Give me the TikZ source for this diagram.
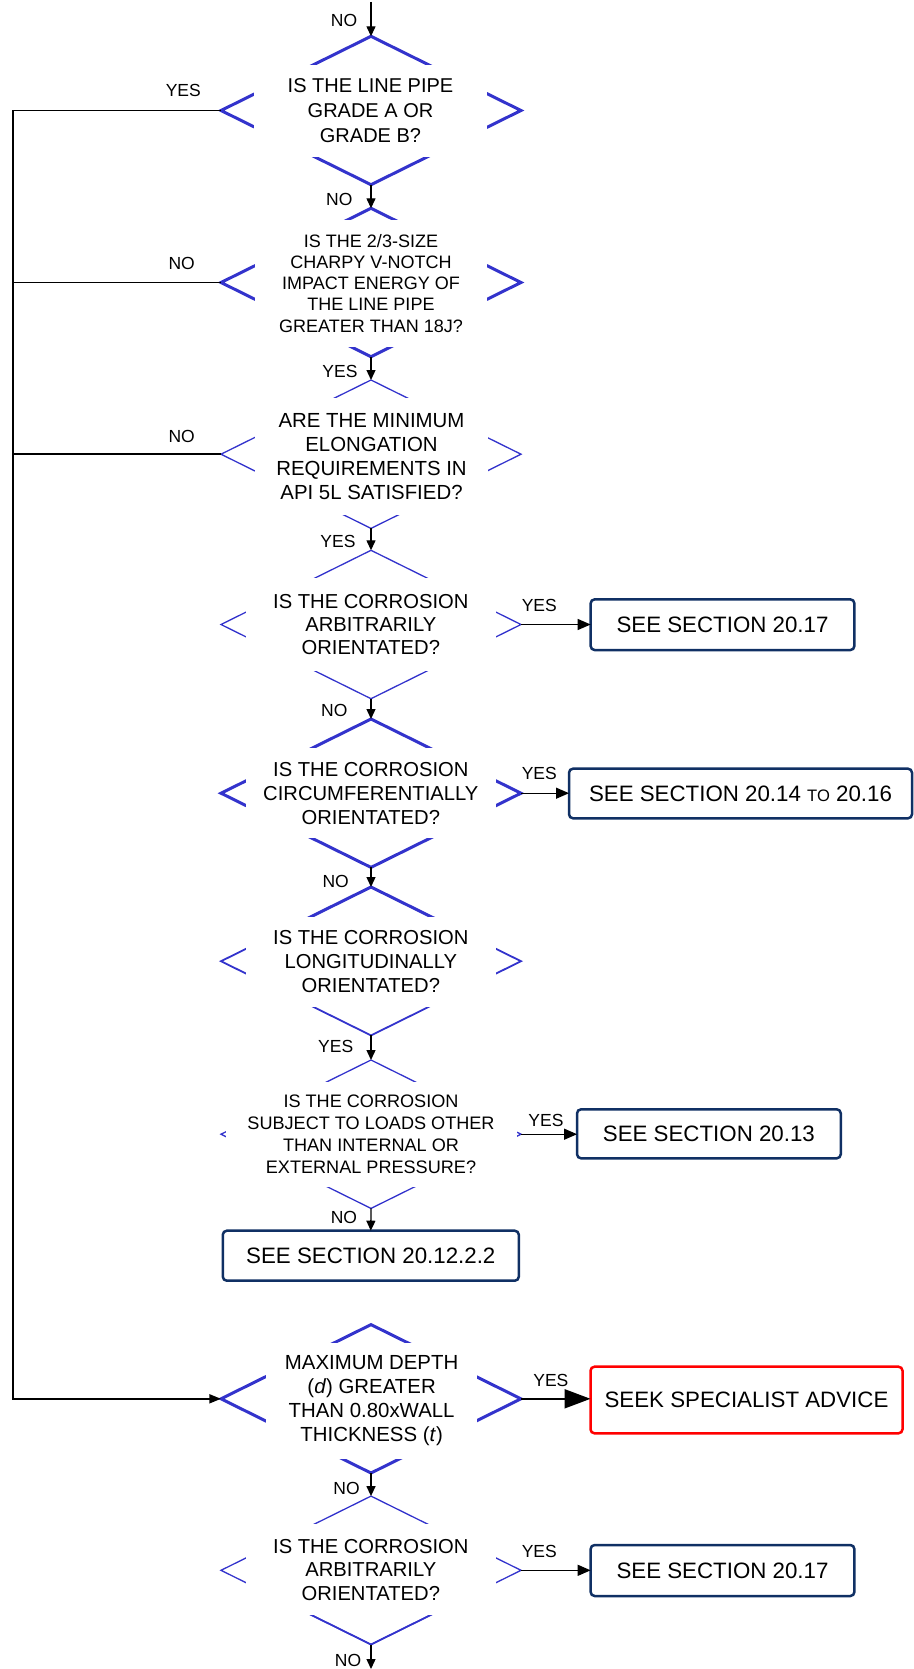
\documentclass[tikz,border=0pt]{standalone}
\usepackage{fontspec}
\setmainfont{Liberation Sans}
\usetikzlibrary{arrows.meta,shapes.geometric,calc}
\definecolor{dblue}{RGB}{51,51,204}
\definecolor{navy}{RGB}{16,48,100}
\begin{document}
\begin{tikzpicture}[x=0.5pt,y=-0.5pt,
  dia/.style={shape=diamond, draw=dblue, inner sep=0pt, outer sep=0pt, minimum width=150pt, minimum height=74.2pt},
  thick dia/.style={dia, line width=1.5pt},
  mid dia/.style={dia, line width=0.9pt},
  thin dia/.style={dia, line width=0.65pt},
  cover/.style={fill=white, inner sep=0pt, outer sep=0pt, align=center, text=black},
  sbox/.style={draw=navy, line width=1.25pt, rounded corners=2pt, inner sep=0pt, outer sep=0pt, font=\fontsize{11.15}{13}\selectfont},
  lbl/.style={font=\fontsize{8.75}{10}\selectfont, inner sep=0pt},
  arr/.style={line width=0.65pt, -{Triangle[length=5pt, width=4.5pt]}},
  barr/.style={line width=0.65pt, -{Triangle[length=6.5pt, width=5.5pt]}},
  fbl/.style={line width=0.8pt}
]
\useasboundingbox (0,0) rectangle (914,1669);

% diamonds
\node[thick dia] (d1) at (371,110.5) {};
\node[thick dia] (d2) at (371,282.5) {};
\node[thin dia]  (d3) at (371,454.2) {};
\node[thin dia]  (d4) at (371,624.5) {};
\node[thick dia] (d5) at (371,793.2) {};
\node[mid dia]   (d6) at (371,961.2) {};
\node[thin dia]  (d7) at (371,1134.2) {};
\node[thick dia] (d8) at (371,1398.8) {};
\node[thin dia]  (d9) at (371,1570.3) {};

% heavier corner strokes
\draw[dblue, line width=1.5pt, line join=miter] ($(d6.north)!0.5!(d6.west)$) -- (d6.north) -- ($(d6.north)!0.5!(d6.east)$);
\draw[dblue, line width=0.9pt, line join=miter] ($(d9.south)!0.5!(d9.west)$) -- (d9.south) -- ($(d9.south)!0.5!(d9.east)$);

% covers with texts
\node[cover, minimum width=116.5pt, minimum height=46pt, font=\fontsize{10}{12.5}\selectfont] (t1) at (370.5,111)
  {IS THE LINE PIPE\\GRADE A OR\\GRADE B?};
\node[cover, minimum width=116pt, minimum height=63.3pt, font=\fontsize{9}{10.6}\selectfont] (t2) at (371,283.3)
  {IS THE 2/3-SIZE\\CHARPY V-NOTCH\\IMPACT ENERGY OF\\THE LINE PIPE\\GREATER THAN 18J?};
\node[cover, minimum width=116.5pt, minimum height=58.3pt, font=\fontsize{10.2}{12}\selectfont] (t3) at (371.5,456.7)
  {ARE THE MINIMUM\\ELONGATION\\REQUIREMENTS IN\\API 5L SATISFIED?};
\node[cover, minimum width=125.2pt, minimum height=46.2pt, font=\fontsize{10.1}{11.65}\selectfont] (t4) at (370.8,624.5)
  {IS THE CORROSION\\ARBITRARILY\\ORIENTATED?};
\node[cover, minimum width=125.2pt, minimum height=45pt, font=\fontsize{10.1}{11.9}\selectfont] (t5) at (370.8,793.3)
  {IS THE CORROSION\\CIRCUMFERENTIALLY\\ORIENTATED?};
\node[cover, minimum width=125.2pt, minimum height=45pt, font=\fontsize{10.1}{11.85}\selectfont] (t6) at (370.8,961.7)
  {IS THE CORROSION\\LONGITUDINALLY\\ORIENTATED?};
\node[cover, minimum width=145.5pt, minimum height=52.2pt, font=\fontsize{9.05}{10.95}\selectfont] (t7) at (371,1134.5)
  {IS THE CORROSION\\SUBJECT TO LOADS OTHER\\THAN INTERNAL OR\\EXTERNAL PRESSURE?};
\node[cover, minimum width=105.2pt, minimum height=58.1pt, font=\fontsize{10.2}{12}\selectfont] (t8) at (371.6,1400.8)
  {MAXIMUM DEPTH\\(\textit{d}) GREATER\\THAN 0.80xWALL\\THICKNESS (\textit{t})};
\node[cover, minimum width=125.2pt, minimum height=45.3pt, font=\fontsize{10.1}{11.75}\selectfont] (t9) at (370.8,1569.7)
  {IS THE CORROSION\\ARBITRARILY\\ORIENTATED?};

% boxes
\node[sbox, minimum width=131.85pt, minimum height=25.35pt] (b1) at (722.5,624.7) {SEE SECTION 20.17};
\node[sbox, minimum width=171.5pt, minimum height=24.8pt] (b2) at (740.5,793.5) {SEE SECTION 20.14 {\fontsize{8.3}{10}\selectfont TO} 20.16};
\node[sbox, minimum width=131.85pt, minimum height=24.5pt] (b3) at (708.9,1133.8) {SEE SECTION 20.13};
\node[sbox, minimum width=148pt, minimum height=25pt] (b4) at (370.8,1255.7) {SEE SECTION 20.12.2.2};
\node[sbox, draw=red, minimum width=156pt, minimum height=33.3pt] (b5) at (746.5,1400) {SEEK SPECIALIST ADVICE};
\node[sbox, minimum width=131.85pt, minimum height=25.5pt] (b6) at (722.5,1570.5) {SEE SECTION 20.17};

% vertical connectors
\coordinate (top) at (371,2);
\coordinate (bot) at (371,1669);
\draw[arr] (top) -- (d1.north);
\draw[arr] (d1.south) -- (d2.north);
\draw[arr] (d2.south) -- (d3.north);
\draw[arr] (d3.south) -- (d4.north);
\draw[arr] (d4.south) -- (d5.north);
\draw[arr] (d5.south) -- (d6.north);
\draw[arr] (d6.south) -- (d7.north);
\draw[arr] (d7.south) -- (b4.north);
\draw[arr] (d8.south) -- (d9.north);
\draw[arr] (d9.south) -- (bot);

% horizontal connectors to boxes
\draw[barr] (d4.east) -- (d4.east -| b1.west);
\draw[barr] (d5.east) -- (d5.east -| b2.west);
\draw[barr] (d7.east) -- (d7.east -| b3.west);
\draw[line width=1pt, -{Triangle[length=13pt, width=9.5pt]}] (d8.east) -- (d8.east -| b5.west);
\draw[barr] (d9.east) -- (d9.east -| b6.west);

% feedback line
\coordinate (fb) at (13,0);
\draw[fbl, -{Triangle[length=5.8pt, width=4.5pt]}] (d1.west) -- (d1.west -| fb) -- (d8.west -| fb) -- (d8.west);
\draw[fbl] (d2.west) -- (d2.west -| fb);
\draw[fbl] (d3.west) -- (d3.west -| fb);

% labels
\node[lbl] (l0) at (344,20.7) {NO};
\node[lbl] (l1) at (183.3,90.7) {YES};
\node[lbl] (l2) at (339.3,199) {NO};
\node[lbl] (l3) at (181.7,263.3) {NO};
\node[lbl] (l4) at (340,371.7) {YES};
\node[lbl] (l5) at (181.7,436) {NO};
\node[lbl] (l6) at (338,541.7) {YES};
\node[lbl] (l7) at (539.3,605.7) {YES};
\node[lbl] (l8) at (334.3,710) {NO};
\node[lbl] (l9) at (539.3,773.3) {YES};
\node[lbl] (l10) at (335.7,881.7) {NO};
\node[lbl] (l11) at (335.7,1046) {YES};
\node[lbl] (l12) at (546,1120) {YES};
\node[lbl] (l13) at (343.9,1217.7) {NO};
\node[lbl] (l14) at (550.9,1380) {YES};
\node[lbl] (l15) at (346.6,1488.3) {NO};
\node[lbl] (l16) at (539.3,1551.7) {YES};
\node[lbl] (l17) at (348,1660) {NO};
\end{tikzpicture}
\end{document}
